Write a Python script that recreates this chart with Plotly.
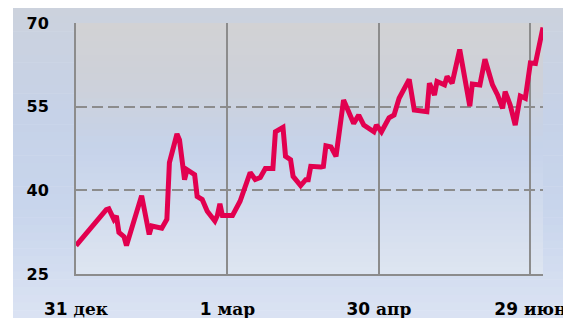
import plotly.graph_objects as go

# ---- data (days since 31 Dec, index values) ----
days = [0, 12, 13, 15, 16, 17, 19, 20, 26, 29, 30, 34, 36, 37, 40, 41, 43, 44, 47, 48,
        50, 52, 55, 56, 57, 58, 62, 64, 65, 69, 71, 73, 75, 78, 79, 82, 83, 85, 86, 89,
        91, 92, 93, 97, 98, 99, 101, 103, 106, 110, 112, 114, 118, 119, 121, 124, 126, 128, 132, 134,
        139, 140, 142, 143, 146, 147, 149, 152, 156, 157, 160, 162, 165, 167, 169, 170, 172, 174, 176, 178,
        180, 182, 185]
values = [30.1, 36.55, 36.7, 34.8, 35.4, 32.45, 31.7, 30.1, 39.05, 32.1,
          33.6, 33.2, 34.8, 44.95, 50.1, 49.05, 41.9, 43.7, 42.8, 38.9,
          38.35, 36.25, 34.5, 35.5, 37.6, 35.5, 35.5, 37.15, 38.05, 43.2,
          41.95, 42.3, 43.9, 43.9, 50.5, 51.3, 46.1, 45.5, 42.5, 40.85,
          41.9, 41.9, 44.3, 44.2, 44.3, 48.0, 47.8, 46.1, 56.2, 52.0,
          53.5, 51.7, 50.5, 51.7, 50.5, 53.0, 53.5, 56.5, 59.9, 54.4,
          54.1, 59.2, 57.1, 59.5, 58.9, 60.4, 59.2, 65.25, 55.1, 59.05,
          58.9, 63.5, 58.9, 57.1, 54.7, 57.7, 55.3, 51.7, 56.9, 56.5,
          62.85, 62.75, 69.2]

x_tick_days = [0, 60, 120, 180]
x_tick_nums = ["31", "1", "30", "29"]
x_tick_words = ["дек", "мар", "апр", "июн"]
y_ticks = [25, 40, 55, 70]

# page has an 8px body margin; figure occupies (8,8)-(571,318)
OFF = 8
W, H = 571 - OFF, 318 - OFF
ML, MR, MT, MB = 68, 28, 15, 44
PW, PH = W - ML - MR, H - MT - MB


def hex2rgb(h):
    h = h.lstrip('#')
    return tuple(int(h[i:i + 2], 16) for i in (0, 2, 4))


def interp(stops, t):
    for (t0, c0), (t1, c1) in zip(stops, stops[1:]):
        if t <= t1:
            f = 0 if t1 == t0 else (t - t0) / (t1 - t0)
            a, b = hex2rgb(c0), hex2rgb(c1)
            return 'rgb(%d,%d,%d)' % tuple(round(a[i] + (b[i] - a[i]) * f) for i in range(3))
    return stops[-1][1]


def px_x(p):  # figure pixel -> paper fraction
    return (p - ML) / PW


def px_y(p):
    return (H - MB - p) / PH


shapes = []
# outer background gradient
outer = [(0, '#ccd2dd'), (0.35, '#c6d2e8'), (0.65, '#c8d5ec'), (1, '#dbe3f3')]
N = 40
for i in range(N):
    y0p = H * i / N
    y1p = H * (i + 1) / N + 0.6
    shapes.append(dict(type='rect', xref='paper', yref='paper', layer='below',
                       x0=px_x(13 - OFF), x1=px_x(W), y0=px_y(y1p), y1=px_y(y0p),
                       line=dict(width=0), fillcolor=interp(outer, (i + 0.5) / N)))
# plot area gradient
inner = [(0, '#d2d2d4'), (0.25, '#cdd1da'), (0.5, '#c6d3ea'), (1, '#dee5f1')]
for i in range(N):
    y0p = MT + PH * i / N
    y1p = MT + PH * (i + 1) / N + 0.6
    shapes.append(dict(type='rect', xref='paper', yref='paper', layer='below',
                       x0=0, x1=1, y0=px_y(min(y1p, H - MB)), y1=px_y(y0p),
                       line=dict(width=0), fillcolor=interp(inner, (i + 0.5) / N)))

fig = go.Figure()
fig.add_trace(go.Scatter(x=days, y=values, mode='lines',
                         line=dict(color='#e2004f', width=5, shape='linear'),
                         hoverinfo='skip'))

tick_text = ['<b>%s</b> <span style="font-family:\'DejaVu Serif\';font-weight:bold">%s</span>' % (n, w)
             for n, w in zip(x_tick_nums, x_tick_words)]

grid_col = '#8c8c8c'
fig.update_layout(
    width=W, height=H,
    margin=dict(l=ML, r=MR, t=MT, b=MB, pad=0, autoexpand=False),
    paper_bgcolor='white', plot_bgcolor='rgba(0,0,0,0)',
    showlegend=False, shapes=shapes,
    font=dict(family='DejaVu Sans', color='#000000'),
    xaxis=dict(range=[0, 185], tickmode='array', tickvals=x_tick_days, ticktext=tick_text,
               showgrid=True, gridcolor=grid_col, gridwidth=2,
               showline=True, linecolor=grid_col, linewidth=2, automargin=False,
               ticks='', ticklabelstandoff=19, zeroline=False,
               tickfont=dict(size=17, family='DejaVu Sans', color='#000000', weight='bold')),
    yaxis=dict(range=[25, 70], tickmode='array', tickvals=y_ticks,
               ticktext=['<b>%d</b>' % v for v in y_ticks],
               showgrid=True, gridcolor=grid_col, gridwidth=2, griddash='11px,5px',
               showline=True, linecolor=grid_col, linewidth=2, automargin=False,
               ticks='', ticklabelstandoff=22, zeroline=False,
               tickfont=dict(size=16, family='DejaVu Sans', color='#000000', weight='bold')),
)

fig.write_html("out.html")
